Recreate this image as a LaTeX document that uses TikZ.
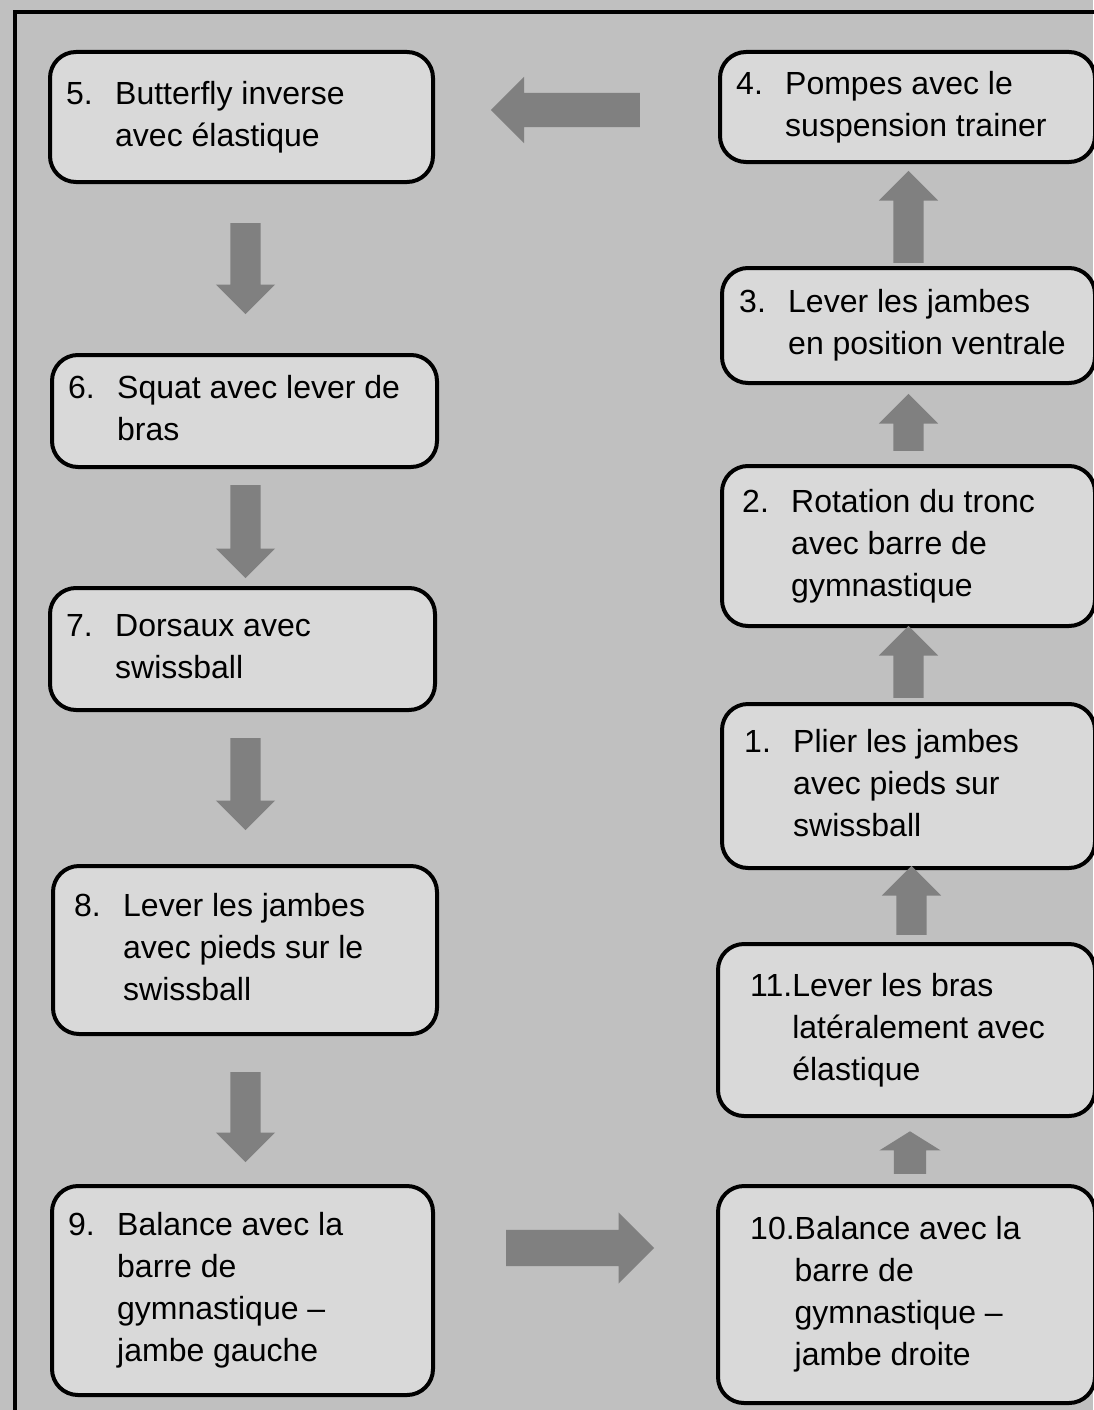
\documentclass[tikz,border=0pt]{standalone}
\usepackage{fontspec}
\setmainfont{Liberation Sans}
\usetikzlibrary{positioning,shapes.arrows}

\definecolor{bggray}{RGB}{192,192,192}
\definecolor{boxgray}{RGB}{217,217,217}
\definecolor{arrowgray}{RGB}{128,128,128}

% number + hanging text
\newcommand{\exo}[2]{\begin{tabular}{@{}p{49pt}@{}l@{}}#1 & #2\end{tabular}}
\newcommand{\exoo}[2]{\begin{tabular}{@{}l@{}l@{}}#1 & #2\end{tabular}}

\begin{document}
\begin{tikzpicture}[x=1pt, y=-1pt,
  ex box/.style={draw=black, line width=4pt, fill=boxgray, rounded corners=26pt, inner sep=0pt},
  ex text/.style={font=\fontsize{32}{42}\selectfont, inner sep=0pt},
  big arrow/.style={single arrow, fill=arrowgray, draw=none, inner sep=15pt, anchor=tail,
    single arrow head extend=14.5pt, single arrow tip angle=90, single arrow head indent=0pt}]

  \useasboundingbox (0,0) rectangle (1093,1410);
  \fill[bggray] (0,0) rectangle (1093,1410);
  \draw[line width=4.5pt] (15,12) rectangle (1130,1450);

  % left column
  \node[ex box, minimum width=383pt, minimum height=130pt] (b5) at (241.5,117) {};
  \node[ex box, minimum width=385pt, minimum height=112pt] (b6) at (244.5,411) {};
  \node[ex box, minimum width=385pt, minimum height=122pt] (b7) at (242.5,649) {};
  \node[ex box, minimum width=384pt, minimum height=168pt] (b8) at (245,950) {};
  \node[ex box, minimum width=381pt, minimum height=209pt] (b9) at (242.5,1290.5) {};

  % right column
  \node[ex box, minimum width=375pt, minimum height=110pt] (b4) at (907.5,107) {};
  \node[ex box, minimum width=373pt, minimum height=115pt] (b3) at (908.5,325.5) {};
  \node[ex box, minimum width=373pt, minimum height=160pt] (b2) at (908.5,546) {};
  \node[ex box, minimum width=373pt, minimum height=164pt] (b1) at (908.5,786) {};
  \node[ex box, minimum width=377pt, minimum height=172pt] (b11) at (906.5,1030) {};
  \node[ex box, minimum width=377pt, minimum height=217pt] (b10) at (906.5,1294.5) {};

  \node[ex text, right=18pt of b5.west] (t5) {\exo{5.}{Butterfly inverse\\ & avec élastique}};
  \node[ex text, right=18pt of b6.west] (t6) {\exo{6.}{Squat avec lever de\\ & bras}};
  \node[ex text, right=18pt of b7.west] (t7) {\exo{7.}{Dorsaux avec\\ & swissball}};
  \node[ex text, right=23pt of b8.west] (t8) {\exo{8.}{Lever les jambes\\ & avec pieds sur le\\ & swissball}};
  \node[ex text, right=18pt of b9.west] (t9) {\exo{9.}{Balance avec la\\ & barre de\\ & gymnastique --\\ & jambe gauche}};

  \node[ex text, right=18pt of b4.west] (t4) {\exo{4.}{Pompes avec le\\ & suspension trainer}};
  \node[ex text, right=19pt of b3.west] (t3) {\exo{3.}{Lever les jambes\\ & en position ventrale}};
  \node[ex text, right=22pt of b2.west] (t2) {\exo{2.}{Rotation du tronc\\ & avec barre de\\ & gymnastique}};
  \node[ex text, right=24pt of b1.west] (t1) {\exo{1.}{Plier les jambes\\ & avec pieds sur\\ & swissball}};
  \node[ex text, right=34pt of b11.west] (t11) {\exoo{11.}{Lever les bras\\ & latéralement avec\\ & élastique}};
  \node[ex text, right=34pt of b10.west] (t10) {\exoo{10.}{Balance avec la\\ & barre de\\ & gymnastique --\\ & jambe droite}};

  % arrows between the boxes
  \node[big arrow, rotate=180, minimum height=149pt, inner sep=17pt, single arrow head extend=16pt] (a45) at (640,110) {};
  \node[big arrow, rotate=-90, minimum height=91pt] (a56) at (245.5,223) {};
  \node[big arrow, rotate=-90, minimum height=93pt] (a67) at (245.5,485) {};
  \node[big arrow, rotate=-90, minimum height=92pt] (a78) at (245.5,738) {};
  \node[big arrow, rotate=-90, minimum height=90pt] (a89) at (245.5,1072) {};
  \node[big arrow, minimum height=148pt, inner sep=18pt, single arrow head extend=17.5pt] (a910) at (506,1248) {};
  \node[big arrow, rotate=90, minimum height=39pt, inner sep=16pt, single arrow tip angle=116] (a1011) at (910,1174) {};
  \node[big arrow, rotate=90, minimum height=69pt] (a111) at (911.5,935) {};
  \node[big arrow, rotate=90, minimum height=72pt] (a12) at (908.5,698) {};
  \node[big arrow, rotate=90, minimum height=57pt] (a23) at (908.5,451) {};
  \node[big arrow, rotate=90, minimum height=92pt] (a34) at (908.5,263) {};
\end{tikzpicture}
\end{document}
